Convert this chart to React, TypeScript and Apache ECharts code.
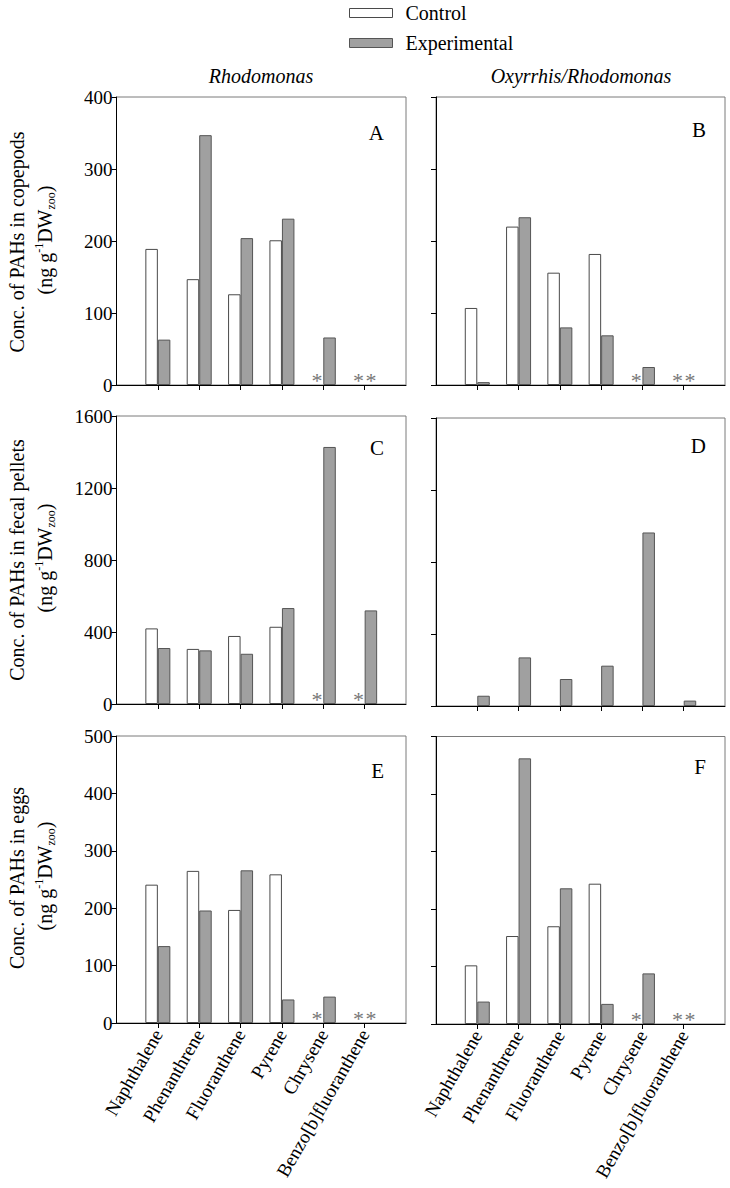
import React, { useEffect, useRef } from "react";
import * as echarts from "echarts";

const categories = ["Naphthalene", "Phenanthrene", "Fluoranthene", "Pyrene", "Chrysene", "Benzo[b]fluoranthene"];
// null = not detected (shown as *), undefined = not measured (no mark)
const copepodsRhodoControl = [189, 147, 126, 201, null, null];
const copepodsRhodoExp = [63, 347, 204, 231, 66, null];
const copepodsOxyControl = [107, 220, 156, 182, null, null];
const copepodsOxyExp = [4, 233, 80, 69, 25, null];
const pelletsRhodoControl = [420, 306, 378, 429, null, null];
const pelletsRhodoExp = [311, 298, 279, 533, 1428, 520];
const pelletsOxyControl: (number | null | undefined)[] = [];
const pelletsOxyExp = [57, 270, 150, 224, 964, 30];
const eggsRhodoControl = [241, 265, 197, 259, null, null];
const eggsRhodoExp = [134, 196, 266, 41, 46, null];
const eggsOxyControl = [102, 153, 170, 244, null, null];
const eggsOxyExp = [39, 462, 236, 35, 88, null];

const yMaxes = [400, 1600, 500];
const yIntervals = [100, 400, 100];
const rowTitles = ["Conc. of PAHs in copepods", "Conc. of PAHs in fecal pellets", "Conc. of PAHs in eggs"];
const colTitles = ["Rhodomonas", "Oxyrrhis/Rhodomonas"];
const panelLetters = ["A", "B", "C", "D", "E", "F"];

const FONT = "'Liberation Serif', 'Times New Roman', serif";

const panels = [
  { ctrl: copepodsRhodoControl, exp: copepodsRhodoExp },
  { ctrl: copepodsOxyControl, exp: copepodsOxyExp },
  { ctrl: pelletsRhodoControl, exp: pelletsRhodoExp },
  { ctrl: pelletsOxyControl, exp: pelletsOxyExp },
  { ctrl: eggsRhodoControl, exp: eggsRhodoExp },
  { ctrl: eggsOxyControl, exp: eggsOxyExp },
];

const gridBoxes = [
  { left: 116.5, top: 97, width: 289.5, height: 288 },
  { left: 436, top: 97, width: 289, height: 288 },
  { left: 116.5, top: 416, width: 289.5, height: 288 },
  { left: 436, top: 418, width: 289, height: 288 },
  { left: 116.5, top: 736, width: 289.5, height: 287 },
  { left: 436, top: 736.5, width: 289, height: 287.5 },
];

function barData(vals: (number | null | undefined)[]) {
  const inner = categories.map((_, i) => {
    const v = vals[i];
    if (v === undefined) return "-";
    if (v === null)
      return {
        value: 0,
        itemStyle: { borderWidth: 0, color: "transparent" },
        label: {
          show: true,
          formatter: "*",
          position: "top",
          distance: 0,
          offset: [0, 6],
          fontSize: 22,
          color: "#777",
          fontFamily: FONT,
        },
      };
    return v;
  });
  return ["-", ...inner, "-"];
}

export default function App() {
  const ref = useRef<HTMLDivElement>(null);
  useEffect(() => {
    if (!ref.current) return;
    const chart = echarts.init(ref.current, null, { renderer: "svg" });
    const xCats = ["", ...categories, ""];
    const grid = gridBoxes.map((g) => ({ ...g, show: true, borderColor: "#7a7a7a", borderWidth: 1, containLabel: false }));
    const xAxis = gridBoxes.map((_, i) => ({
      type: "category",
      gridIndex: i,
      data: xCats,
      boundaryGap: false,
      axisLine: { show: true, lineStyle: { color: "#000", width: 1 } },
      axisTick: { show: true, length: 5, interval: (idx: number) => idx > 0 && idx < 7, lineStyle: { color: "#000" } },
      axisLabel: {
        show: i >= 4,
        interval: 0,
        rotate: 60,
        margin: 8,
        fontSize: 19,
        color: "#000",
        fontFamily: FONT,
      },
      splitLine: { show: false },
    }));
    const yAxis = gridBoxes.map((_, i) => {
      const r = Math.floor(i / 2);
      return {
        type: "value",
        gridIndex: i,
        min: 0,
        max: yMaxes[r],
        interval: yIntervals[r],
        axisLine: { show: true, lineStyle: { color: "#000", width: 1 } },
        axisTick: { show: true, length: 5, lineStyle: { color: "#000" } },
        axisLabel: {
          show: i % 2 === 0,
          margin: 4,
          fontSize: 19,
          color: "#000",
          fontFamily: FONT,
          formatter: (v: number) => String(v),
        },
        splitLine: { show: false },
      };
    });
    const series: any[] = [];
    panels.forEach((p, i) => {
      series.push({
        type: "bar",
        name: "Control",
        xAxisIndex: i,
        yAxisIndex: i,
        data: barData(p.ctrl),
        barWidth: 12.5,
        barGap: "0%",
        itemStyle: { color: "#ffffff", borderColor: "#4a4a4a", borderWidth: 1 },
      });
      series.push({
        type: "bar",
        name: "Experimental",
        xAxisIndex: i,
        yAxisIndex: i,
        data: barData(p.exp),
        barWidth: 12.5,
        barGap: "0%",
        itemStyle: { color: "#a0a0a0", borderColor: "#555555", borderWidth: 1 },
      });
    });

    const graphic: any[] = [];
    const rowCenters = [242, 560, 878];
    rowTitles.forEach((t, r) => {
      graphic.push({
        type: "text",
        x: 17,
        y: rowCenters[r],
        rotation: Math.PI / 2,
        style: { text: t, fontSize: 20, fontFamily: FONT, fill: "#000", align: "center", verticalAlign: "middle" },
      });
      graphic.push({
        type: "text",
        x: 45,
        y: rowCenters[r] - 2,
        rotation: Math.PI / 2,
        style: {
          text: "(ng g{sup|-1}DW{sub|zoo})",
          fontSize: 20,
          fontFamily: FONT,
          fill: "#000",
          align: "center",
          verticalAlign: "middle",
          rich: {
            sup: { fontSize: 12, fontFamily: FONT, verticalAlign: "top", lineHeight: 24, fill: "#000" },
            sub: { fontSize: 12, fontFamily: FONT, verticalAlign: "bottom", lineHeight: 24, fill: "#000" },
          },
        },
      });
    });
    colTitles.forEach((t, c) => {
      graphic.push({
        type: "text",
        x: c === 0 ? 261 : 581,
        y: 76,
        style: { text: t, fontSize: 20, fontStyle: "italic", fontFamily: FONT, fill: "#000", align: "center", verticalAlign: "middle" },
      });
    });
    const letterY = [133, 130, 448, 446, 771, 767];
    panelLetters.forEach((l, i) => {
      graphic.push({
        type: "text",
        x: i % 2 === 0 ? 384 : 706,
        y: letterY[i],
        style: { text: l, fontSize: 21, fontFamily: FONT, fill: "#000", align: "right", verticalAlign: "middle" },
      });
    });

    chart.setOption({
      animation: false,
      backgroundColor: "#fff",
      legend: {
        orient: "vertical",
        left: 349,
        top: 3,
        padding: 0,
        itemWidth: 43,
        itemHeight: 9,
        itemGap: 10,
        icon: "rect",
        textStyle: { fontSize: 20, fontFamily: FONT, color: "#000", lineHeight: 14, padding: [0, 0, 0, 8] },
        data: [
          { name: "Control", itemStyle: { color: "#fff", borderColor: "#4a4a4a", borderWidth: 1 } },
          { name: "Experimental", itemStyle: { color: "#a0a0a0", borderColor: "#555", borderWidth: 1 } },
        ],
      },
      grid,
      xAxis,
      yAxis,
      series,
      graphic,
    });
    return () => chart.dispose();
  }, []);
  return <div ref={ref} style={{ position: "absolute", left: 0, top: 0, width: 730, height: 1188, background: "#fff" }} />;
}
